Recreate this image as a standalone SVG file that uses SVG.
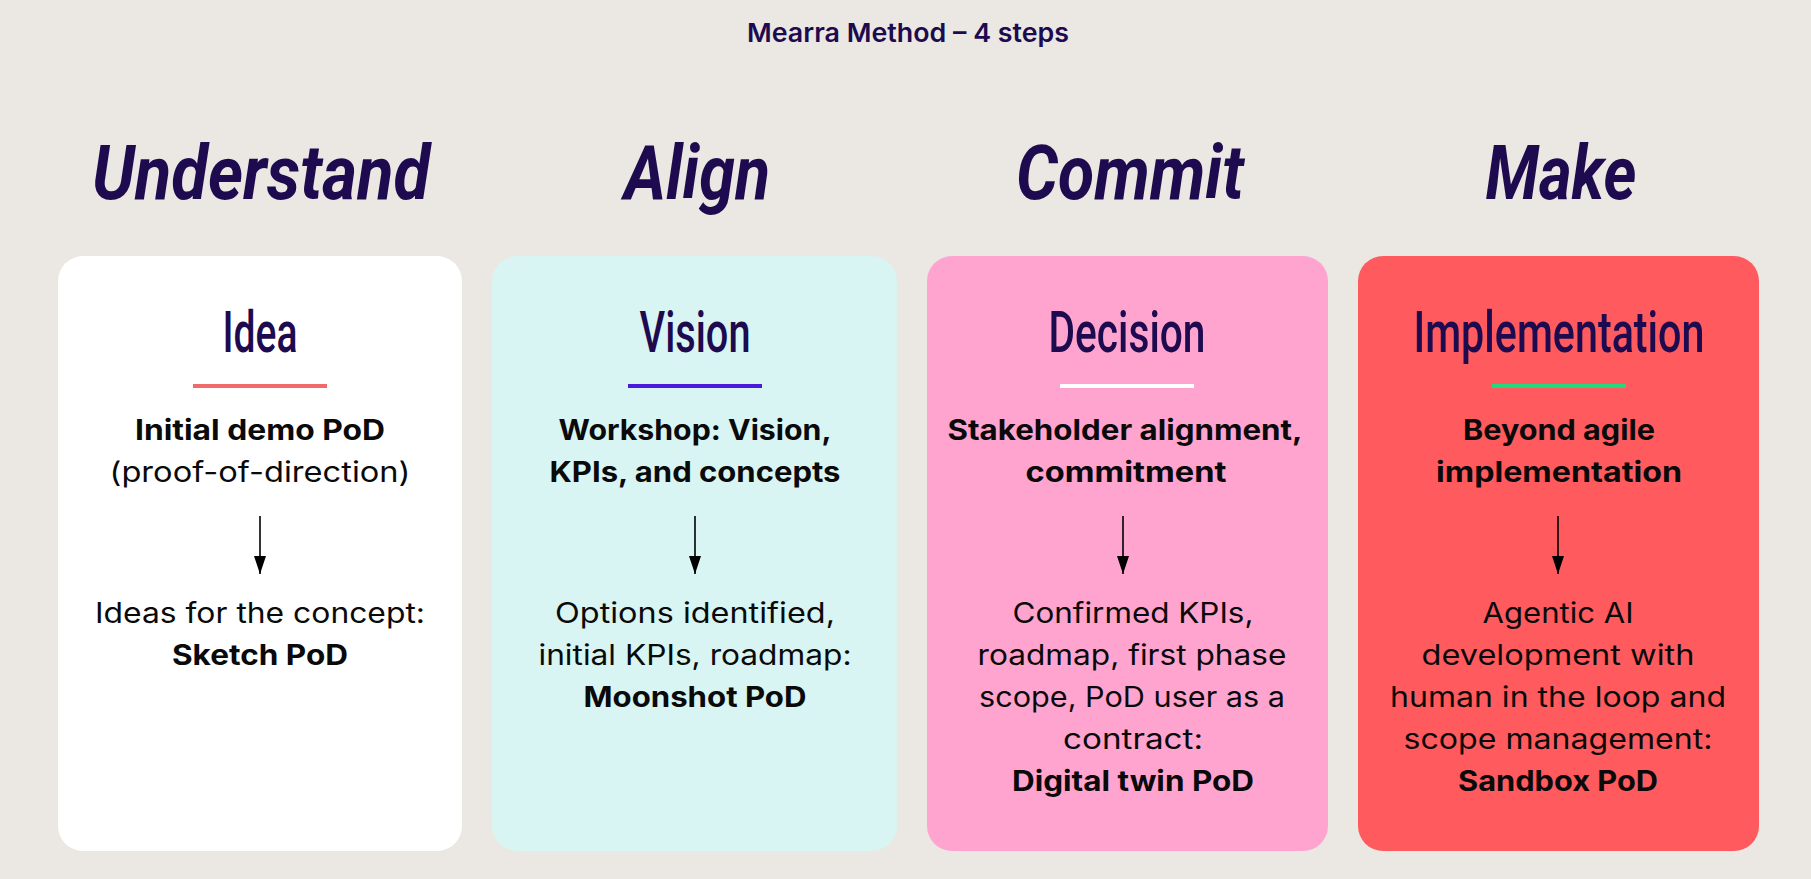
<svg xmlns="http://www.w3.org/2000/svg" width="1811" height="879" viewBox="0 0 1811 879">
  <defs>
    <style>
      .bg { fill: #EBE7E2; }
      .title { font-family: Inter, "Liberation Sans", sans-serif; font-weight: 600; font-size: 26px; fill: #1E0A4E; text-anchor: middle; }
      .step { font-family: Roboto, "Liberation Sans", sans-serif; font-weight: 700; font-style: italic; font-size: 76px; fill: #1E0A4E; text-anchor: middle; }
      .card { stroke: none; }
      .head { font-family: Roboto, "Liberation Sans", sans-serif; font-weight: 500; font-size: 58px; fill: #1E0A4E; text-anchor: middle; }
      .bar { stroke-width: 4; }
      .b { font-family: Inter, "Liberation Sans", sans-serif; font-weight: 700; font-size: 28px; fill: #0A0A0A; text-anchor: middle; }
      .r { font-family: Inter, "Liberation Sans", sans-serif; font-weight: 400; font-size: 28px; fill: #0A0A0A; text-anchor: middle; }
      .conn { stroke: #000; stroke-width: 1.6; fill: none; marker-end: url(#arrow); }
    </style>
    <marker id="arrow" markerUnits="userSpaceOnUse" markerWidth="18" markerHeight="12" viewBox="0 0 18 12" refX="18" refY="6" orient="auto">
      <path d="M0,0 L18,6 L0,12 z" fill="#000"/>
    </marker>
  </defs>

  <rect class="bg" x="0" y="0" width="1811" height="879"/>

  <text class="title" x="908" y="42" textLength="322" lengthAdjust="spacingAndGlyphs">Mearra Method – 4 steps</text>

  <g id="step-understand">
    <text class="step" x="261" y="199" textLength="338" lengthAdjust="spacingAndGlyphs">Understand</text>
  </g>
  <g id="step-align">
    <text class="step" x="697" y="199" textLength="146" lengthAdjust="spacingAndGlyphs">Align</text>
  </g>
  <g id="step-commit">
    <text class="step" x="1130" y="199" textLength="228" lengthAdjust="spacingAndGlyphs">Commit</text>
  </g>
  <g id="step-make">
    <text class="step" x="1561" y="199" textLength="151" lengthAdjust="spacingAndGlyphs">Make</text>
  </g>

  <g id="card-idea">
    <rect class="card" x="58" y="256" width="404" height="595" rx="25" fill="#FFFFFF"/>
    <text class="head" x="260" y="352" textLength="75" lengthAdjust="spacingAndGlyphs">Idea</text>
    <line class="bar" x1="193" y1="386" x2="327" y2="386" stroke="#F26B6B"/>
    <text class="b" x="260" y="440" textLength="250" lengthAdjust="spacingAndGlyphs">Initial demo PoD</text>
    <text class="r" x="260" y="482" textLength="301" lengthAdjust="spacingAndGlyphs">(proof-of-direction)</text>
    <text class="r" x="260" y="623" textLength="330" lengthAdjust="spacingAndGlyphs">Ideas for the concept:</text>
    <text class="b" x="260" y="665" textLength="176" lengthAdjust="spacingAndGlyphs">Sketch PoD</text>
  </g>

  <g id="card-vision">
    <rect class="card" x="492" y="256" width="405" height="595" rx="25" fill="#D8F5F3"/>
    <text class="head" x="695" y="352" textLength="111" lengthAdjust="spacingAndGlyphs">Vision</text>
    <line class="bar" x1="628" y1="386" x2="762" y2="386" stroke="#4A19DC"/>
    <text class="b" x="695" y="440" textLength="273" lengthAdjust="spacingAndGlyphs">Workshop: Vision,</text>
    <text class="b" x="695" y="482" textLength="291" lengthAdjust="spacingAndGlyphs">KPIs, and concepts</text>
    <text class="r" x="695" y="623" textLength="280" lengthAdjust="spacingAndGlyphs">Options identified,</text>
    <text class="r" x="695" y="665" textLength="313" lengthAdjust="spacingAndGlyphs">initial KPIs, roadmap:</text>
    <text class="b" x="695" y="707" textLength="223" lengthAdjust="spacingAndGlyphs">Moonshot PoD</text>
  </g>

  <g id="card-decision">
    <rect class="card" x="927" y="256" width="401" height="595" rx="25" fill="#FFA4CF"/>
    <text class="head" x="1127" y="352" textLength="157" lengthAdjust="spacingAndGlyphs">Decision</text>
    <line class="bar" x1="1060" y1="386" x2="1194" y2="386" stroke="#FFFFFF"/>
    <text class="b" x="1125" y="440" textLength="355" lengthAdjust="spacingAndGlyphs">Stakeholder alignment,</text>
    <text class="b" x="1126" y="482" textLength="201" lengthAdjust="spacingAndGlyphs">commitment</text>
    <text class="r" x="1133" y="623" textLength="241" lengthAdjust="spacingAndGlyphs">Confirmed KPIs,</text>
    <text class="r" x="1132" y="665" textLength="309" lengthAdjust="spacingAndGlyphs">roadmap, first phase</text>
    <text class="r" x="1132" y="707" textLength="306" lengthAdjust="spacingAndGlyphs">scope, PoD user as a</text>
    <text class="r" x="1133" y="749" textLength="140" lengthAdjust="spacingAndGlyphs">contract:</text>
    <text class="b" x="1133" y="791" textLength="242" lengthAdjust="spacingAndGlyphs">Digital twin PoD</text>
  </g>

  <g id="card-implementation">
    <rect class="card" x="1358" y="256" width="401" height="595" rx="25" fill="#FF5B5E"/>
    <text class="head" x="1559" y="352" textLength="291" lengthAdjust="spacingAndGlyphs">Implementation</text>
    <line class="bar" x1="1492" y1="386" x2="1626" y2="386" stroke="#22D97E"/>
    <text class="b" x="1559" y="440" textLength="192" lengthAdjust="spacingAndGlyphs">Beyond agile</text>
    <text class="b" x="1559" y="482" textLength="246" lengthAdjust="spacingAndGlyphs">implementation</text>
    <text class="r" x="1558" y="623" textLength="151" lengthAdjust="spacingAndGlyphs">Agentic AI</text>
    <text class="r" x="1558" y="665" textLength="273" lengthAdjust="spacingAndGlyphs">development with</text>
    <text class="r" x="1558" y="707" textLength="336" lengthAdjust="spacingAndGlyphs">human in the loop and</text>
    <text class="r" x="1558" y="749" textLength="309" lengthAdjust="spacingAndGlyphs">scope management:</text>
    <text class="b" x="1558" y="791" textLength="200" lengthAdjust="spacingAndGlyphs">Sandbox PoD</text>
  </g>

  <g id="connectors">
    <line class="conn" x1="260" y1="516" x2="260" y2="574"/>
    <line class="conn" x1="695" y1="516" x2="695" y2="574"/>
    <line class="conn" x1="1123" y1="516" x2="1123" y2="574"/>
    <line class="conn" x1="1558" y1="516" x2="1558" y2="574"/>
  </g>
</svg>
